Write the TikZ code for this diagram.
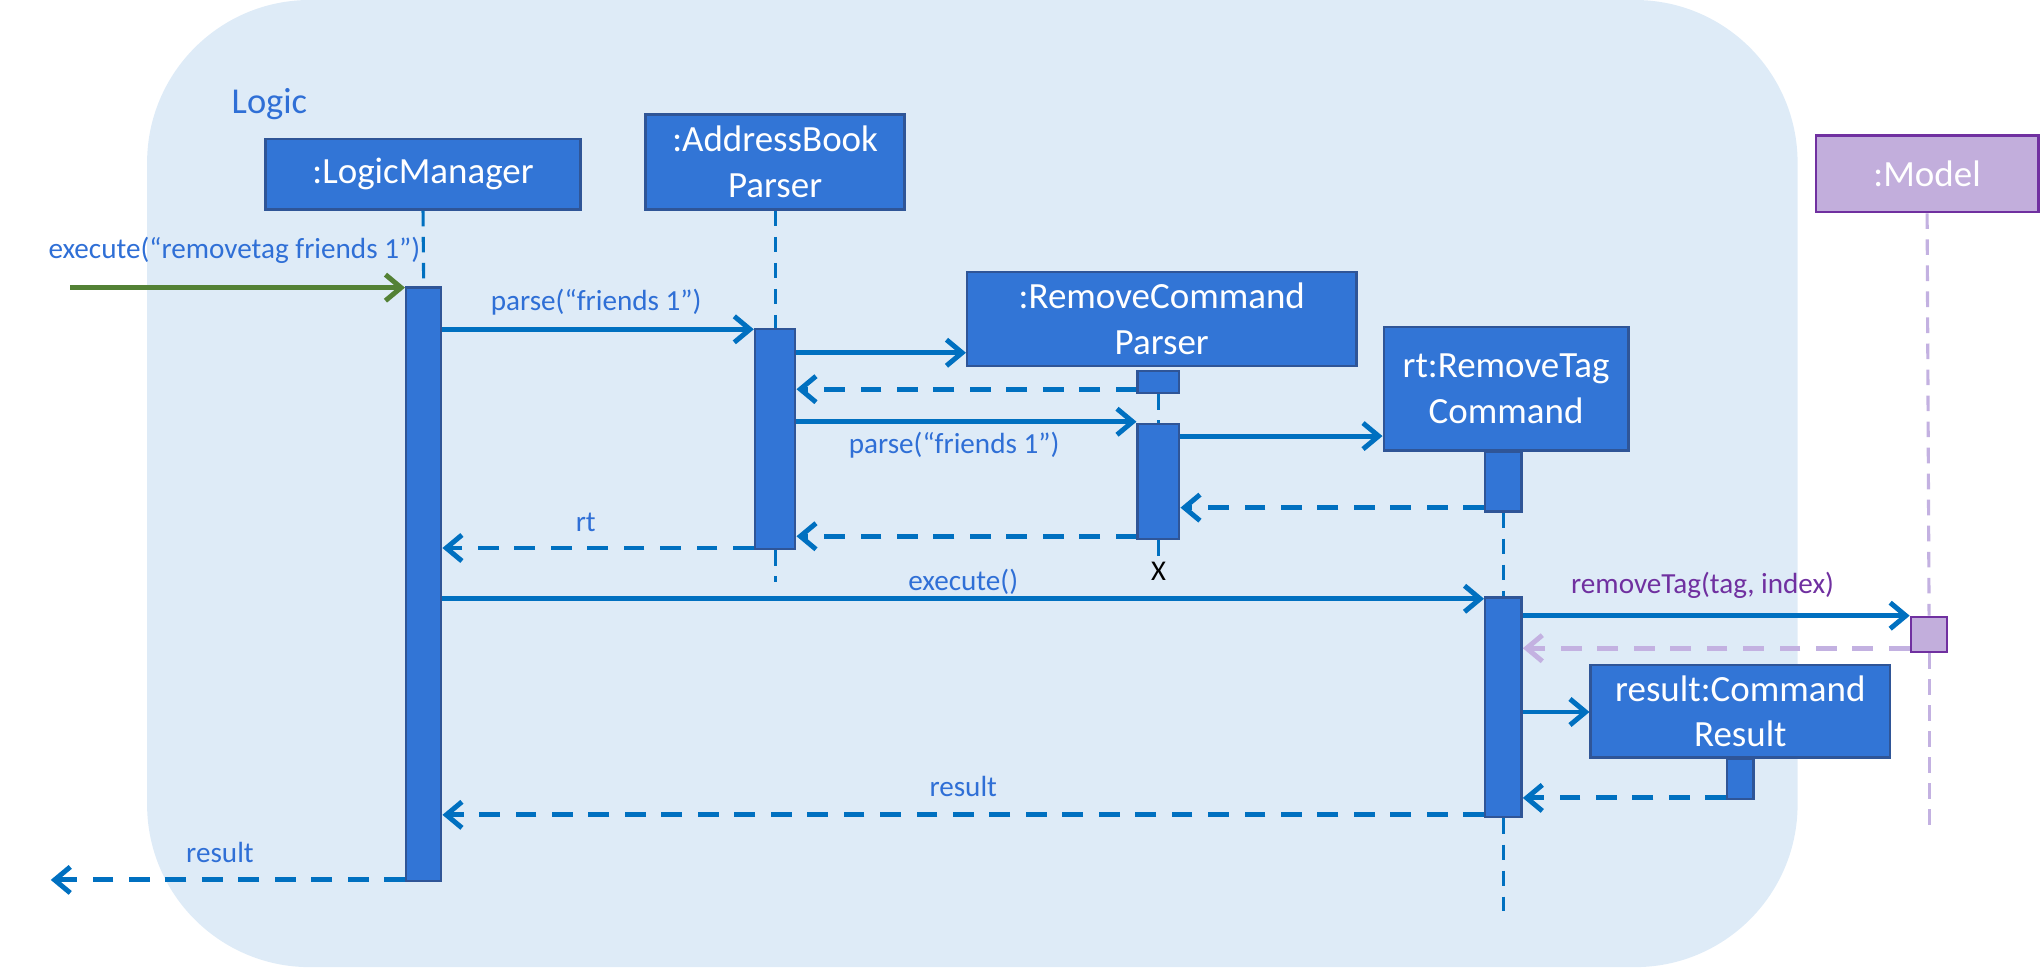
\documentclass[tikz,border=0pt]{standalone}
\usepackage{fontspec}
\setmainfont{Carlito}
\usetikzlibrary{arrows.meta}
\definecolor{bgblue}{HTML}{DEEBF7}
\definecolor{boxfill}{HTML}{3275D6}
\definecolor{boxline}{HTML}{2F5597}
\definecolor{arrblue}{HTML}{0070C0}
\definecolor{txtblue}{HTML}{2F6FD6}
\definecolor{grn}{HTML}{538135}
\definecolor{purp}{HTML}{7030A0}
\definecolor{lav}{HTML}{C2AEDC}
\definecolor{lavline}{HTML}{C3B1E1}
\begin{document}
\begin{tikzpicture}[x=0.5pt,y=-0.5pt,
 obj/.style={draw=boxline, line width=0.9pt, fill=boxfill, text=white, inner sep=0pt, align=center, font=\fontsize{14.2}{17.5}\selectfont},
 bar/.style={draw=boxline, line width=0.9pt, fill=boxfill, inner sep=0pt, anchor=north},
 life/.style={draw=arrblue, line width=1.2pt, dash pattern=on 6pt off 4pt},
 msg/.style={draw=arrblue, line width=1.9pt, -{Straight Barb[length=6pt,width=10pt]}},
 ret/.style={msg, dash pattern=on 8pt off 6pt},
 lbl/.style={text=txtblue, inner sep=0pt, font=\fontsize{11.2}{13}\selectfont},
]
\useasboundingbox (0,0) rectangle (1568,743);
\fill[bgblue, rounded corners=62.5pt] (113,0) rectangle (1381,743);
\node[text=txtblue, font=\fontsize{14}{17}\selectfont, inner sep=0pt] (logic) at (207,80) {Logic};

% objects
\node[obj, minimum width=121pt, minimum height=27pt] (lm) at (325,134) {:LogicManager};
\node[obj, minimum width=99.5pt, minimum height=36.5pt] (abp) at (595.5,124.5) {:AddressBook\\Parser};
\node[obj, minimum width=149.5pt, minimum height=36pt] (rcp) at (892.5,245) {:RemoveCommand\\Parser};
\node[obj, minimum width=94pt, minimum height=47.5pt] (rt) at (1157,298.5) {rt:RemoveTag\\Command};
\node[obj, minimum width=115pt, minimum height=35.5pt] (res) at (1337,546.5) {result:Command\\Result};
\node[obj, draw=purp, fill=lav, minimum width=85.5pt, minimum height=29.5pt] (model) at (1480.5,133.5) {:Model};

\coordinate (abpEnd) at (595.5,447);
\coordinate (rtEnd) at (1155,700);
\coordinate (mEnd) at (1482,641);
\node[inner sep=0pt, font=\fontsize{11}{13}\selectfont] (x) at (890,439) {X};

% activation bars
\node[bar, minimum width=13.5pt, minimum height=228pt] (lmA) at (325.5,220) {};
\node[bar, minimum width=15.5pt, minimum height=84.5pt] (abpA) at (595.5,252) {};
\node[bar, minimum width=16pt, minimum height=8.5pt] (rcpA1) at (890,284) {};
\node[bar, minimum width=16pt, minimum height=44pt] (rcpA2) at (890,325) {};
\node[bar, minimum width=14pt, minimum height=23pt] (rtA1) at (1155,346) {};
\node[bar, minimum width=14pt, minimum height=84.5pt] (rtA2) at (1155,458) {};
\node[bar, minimum width=10pt, minimum height=15.5pt] (resA) at (1337,582) {};
\node[bar, draw=purp, fill=lav, minimum width=14pt, minimum height=13.5pt] (mA) at (1482,473) {};

% lifelines
\draw[life] (lm.south) -- (lmA.north);
\draw[life] (abp.south) -- (abpA.north);
\draw[life] (abpA.south) -- (abpEnd);
\draw[life] (rcpA1.south) -- (rcpA2.north);
\draw[life] (rcpA2.south) -- (x.north);
\draw[life] (rtA1.south) -- (rtA2.north);
\draw[life] (rtA2.south) -- (rtEnd);
\draw[life, draw=lavline] (model.south) -- (mA.north);
\draw[life, draw=lavline] (mA.south) -- (mEnd);

% messages
\coordinate (start) at (54,221);
\coordinate (finish) at (39,676);
\draw[msg, draw=grn] (start) -- (lmA.west |- 0,221);
\node[lbl] (l1) at (180,192) {execute(“removetag friends 1”)};
\draw[msg] (lmA.east |- 0,253) -- (abpA.west |- 0,253);
\node[lbl] (l2) at (458,232) {parse(“friends 1”)};
\draw[msg] (abpA.east |- 0,271) -- (rcp.west |- 0,271);
\draw[ret] (rcpA1.west |- 0,299) -- (abpA.east |- 0,299);
\draw[msg] (abpA.east |- 0,324) -- (rcpA2.west |- 0,324);
\node[lbl] (l3) at (733,342) {parse(“friends 1”)};
\draw[msg] (rcpA2.east |- 0,335) -- (rt.west |- 0,335);
\draw[ret] (rtA1.west |- 0,390) -- (rcpA2.east |- 0,390);
\draw[ret] (rcpA2.west |- 0,412) -- (abpA.east |- 0,412);
\draw[ret] (abpA.west |- 0,421) -- (lmA.east |- 0,421);
\node[lbl] (l4) at (450,401) {rt};
\draw[msg] (lmA.east |- 0,460) -- (rtA2.west |- 0,460);
\node[lbl] (l5) at (740,447) {execute()};
\draw[msg] (rtA2.east |- 0,473) -- (mA.west |- 0,473);
\node[lbl, text=purp] (l6) at (1308,450) {removeTag(tag, index)};
\draw[ret, draw=lavline] (mA.west |- 0,498) -- (rtA2.east |- 0,498);
\draw[msg] (rtA2.east |- 0,547) -- (res.west |- 0,547);
\draw[ret] (resA.west |- 0,613) -- (rtA2.east |- 0,613);
\draw[ret] (rtA2.west |- 0,626) -- (lmA.east |- 0,626);
\node[lbl] (l7) at (740,604) {result};
\draw[ret] (lmA.west |- 0,676) -- (finish);
\node[lbl] (l8) at (169,655) {result};
\end{tikzpicture}
\end{document}
